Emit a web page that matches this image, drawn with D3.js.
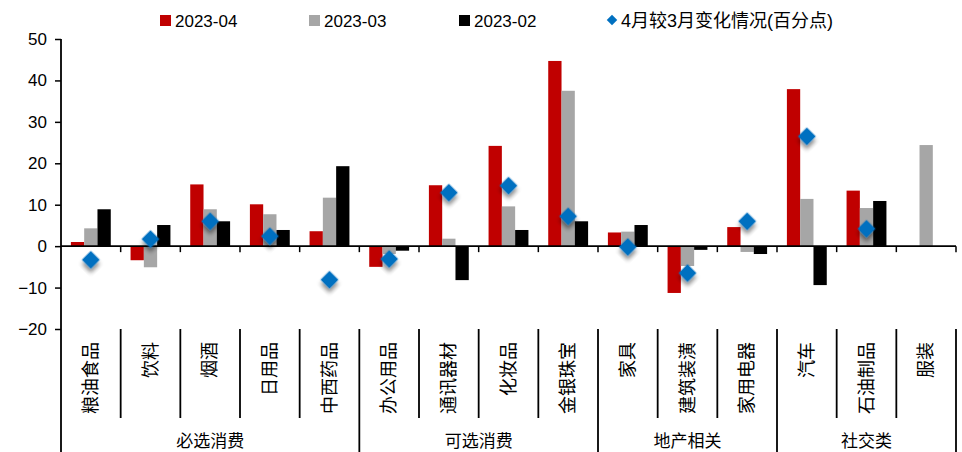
<!DOCTYPE html>
<html>
<head>
<meta charset="utf-8">
<script src="https://cdn.jsdelivr.net/npm/d3@7"></script>
<style>
  body { margin: 0; background: #fff; }
  svg text { font-family: "Liberation Sans", "Noto Sans CJK SC", sans-serif; fill: #000; }
  .cjk { font-family: "Noto Sans CJK SC", sans-serif; }
</style>
</head>
<body>
<div class="chart"></div>
<script>
// categories and groups
var categories = ['粮油食品', '饮料', '烟酒', '日用品', '中西药品', '办公用品', '通讯器材', '化妆品', '金银珠宝',
  '家具', '建筑装潢', '家用电器', '汽车', '石油制品', '服装'];
var groups = [
  { name: '必选消费', n: 5 },
  { name: '可选消费', n: 4 },
  { name: '地产相关', n: 3 },
  { name: '社交类', n: 3 }
];
var seriesNames = ['2023-04', '2023-03', '2023-02'];
var seriesColors = ['#C00000', '#A6A6A6', '#000000'];

// values (null = no bar)
var apr = [1.0, -3.4, 14.9, 10.1, 3.6, -5.0, 14.7, 24.2, 44.7, 3.3, -11.3, 4.6, 37.9, 13.4, null];
var mar = [4.3, -5.1, 8.9, 7.7, 11.7, -1.9, 1.8, 9.6, 37.5, 3.5, -4.8, -1.4, 11.4, 9.2, 24.4];
var feb = [8.9, 5.1, 6.0, 3.9, 19.3, -1.1, -8.2, 3.9, 6.0, 5.1, -0.9, -1.9, -9.4, 10.9, null];
var change = [-3.3, 1.7, 6.0, 2.4, -8.1, -3.1, 12.9, 14.6, 7.2, -0.2, -6.5, 6.0, 26.5, 4.2, null];
var changeName = '4月较3月变化情况(百分点)';
var yTicks = [-20, -10, 0, 10, 20, 30, 40, 50];

var series = [apr, mar, feb];

var W = 962, H = 452;
var plotLeft = 61, plotRight = 956, plotTop = 39, plotBottom = 329;

var svg = d3.select('.chart')
  .append('svg')
  .attr('width', W)
  .attr('height', H);

var defs = svg.append('defs');
defs.append('filter')
  .attr('id', 'shadow')
  .attr('x', '-50%').attr('y', '-50%')
  .attr('width', '200%').attr('height', '200%')
  .append('feDropShadow')
  .attr('dx', 3).attr('dy', 3)
  .attr('stdDeviation', 2)
  .attr('flood-color', '#000')
  .attr('flood-opacity', 0.45);

var x = d3.scaleBand()
  .domain(categories)
  .range([plotLeft, plotRight])
  .padding(0);

var x1 = d3.scaleBand()
  .domain(d3.range(3))
  .range([0, x.bandwidth()])
  .paddingInner(0)
  .paddingOuter(0.745);

var y = d3.scaleLinear()
  .domain([-20, 50])
  .range([plotBottom, plotTop]);

// bars
series.forEach(function(vals, si) {
  svg.append('g')
    .selectAll('rect')
    .data(categories.map(function(c, i) { return { c: c, v: vals[i] }; })
      .filter(function(d) { return d.v != null; }))
    .enter()
    .append('rect')
    .attr('x', function(d) { return x(d.c) + x1(si); })
    .attr('width', x1.bandwidth())
    .attr('y', function(d) { return y(Math.max(0, d.v)); })
    .attr('height', function(d) { return Math.abs(y(d.v) - y(0)); })
    .style('fill', seriesColors[si]);
});

// y axis
var yAxis = d3.axisLeft(y)
  .tickValues(yTicks)
  .tickSize(6)
  .tickPadding(8);
var yg = svg.append('g')
  .attr('transform', 'translate(' + plotLeft + ',0)')
  .call(yAxis);
yg.select('.domain').remove();
yg.selectAll('line').attr('stroke', '#000').attr('stroke-width', 1.5);
yg.selectAll('text').style('font-size', '17px').style('font-family', '"Liberation Sans", sans-serif');

svg.append('line')
  .attr('x1', plotLeft).attr('x2', plotLeft)
  .attr('y1', plotTop).attr('y2', H)
  .attr('stroke', '#000').attr('stroke-width', 1.8);

// zero line with ticks
svg.append('line')
  .attr('x1', plotLeft).attr('x2', plotRight)
  .attr('y1', y(0)).attr('y2', y(0))
  .attr('stroke', '#000').attr('stroke-width', 1.8);

var bounds = categories.map(function(c) { return x(c) + x.bandwidth(); });
svg.append('g')
  .selectAll('line')
  .data(bounds)
  .enter()
  .append('line')
  .attr('x1', function(d) { return d; })
  .attr('x2', function(d) { return d; })
  .attr('y1', y(0))
  .attr('y2', y(0) + 6)
  .attr('stroke', '#000').attr('stroke-width', 1.5);

// category separators in the label area
var groupEnds = [];
var acc = 0;
groups.forEach(function(g) { acc += g.n; groupEnds.push(acc); });

svg.append('g')
  .selectAll('line')
  .data(bounds)
  .enter()
  .append('line')
  .attr('x1', function(d) { return d; })
  .attr('x2', function(d) { return d; })
  .attr('y1', plotBottom)
  .attr('y2', function(d, i) { return groupEnds.indexOf(i + 1) >= 0 ? H : 418; })
  .attr('stroke', '#000').attr('stroke-width', 1.8);

// category labels
svg.append('g')
  .selectAll('text')
  .data(categories)
  .enter()
  .append('text')
  .attr('class', 'cjk')
  .attr('transform', function(d) {
    return 'translate(' + (x(d) + x.bandwidth() / 2) + ',342) rotate(-90)';
  })
  .attr('text-anchor', 'end')
  .attr('dy', '0.35em')
  .style('font-size', '18px')
  .text(function(d) { return d; });

// group labels
var start = 0;
groups.forEach(function(g) {
  var x0 = x(categories[start]);
  var xe = x(categories[start + g.n - 1]) + x.bandwidth();
  svg.append('text')
    .attr('class', 'cjk')
    .attr('x', (x0 + xe) / 2)
    .attr('y', 441)
    .attr('dy', '0.35em')
    .attr('text-anchor', 'middle')
    .style('font-size', '17px')
    .text(g.name);
  start += g.n;
});

// change markers
var diamond = d3.symbol().type(d3.symbolSquare).size(160);
svg.append('g')
  .selectAll('path')
  .data(categories.map(function(c, i) { return { c: c, v: change[i] }; })
    .filter(function(d) { return d.v != null; }))
  .enter()
  .append('path')
  .attr('d', diamond)
  .attr('transform', function(d) {
    return 'translate(' + (x(d.c) + x.bandwidth() / 2) + ',' + y(d.v) + ') rotate(45)';
  })
  .attr('filter', 'url(#shadow)')
  .style('fill', '#0070C0');

// legend
var legendX = [160, 309, 459];
seriesNames.forEach(function(name, i) {
  svg.append('rect')
    .attr('x', legendX[i]).attr('y', 15)
    .attr('width', 11).attr('height', 11)
    .style('fill', seriesColors[i]);
  svg.append('text')
    .attr('x', legendX[i] + 15)
    .attr('y', 26.5)
    .style('font-size', '17px')
    .text(name);
});
svg.append('path')
  .attr('d', d3.symbol().type(d3.symbolSquare).size(55))
  .attr('transform', 'translate(612,20) rotate(45)')
  .style('fill', '#0070C0');
svg.append('text')
  .attr('x', 621)
  .attr('y', 27)
  .style('font-size', '18px')
  .text(changeName);
</script>
</body>
</html>
